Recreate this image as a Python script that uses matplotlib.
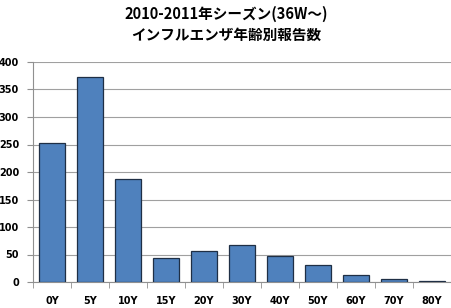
import matplotlib
matplotlib.use('Agg')
import matplotlib.pyplot as plt
import numpy as np

plt.rcParams['font.family'] = ['Noto Sans CJK JP', 'DejaVu Sans']

# data
ages = ['0Y', '5Y', '10Y', '15Y', '20Y', '30Y', '40Y', '50Y', '60Y', '70Y', '80Y']
counts = [253, 373, 187, 44, 56, 67, 47, 31, 13, 5, 2]

fig = plt.figure(figsize=(4.52, 3.08), dpi=100)
ax = fig.add_axes([33 / 452, (308 - 282) / 308, 418 / 452, 220 / 308])

x = np.arange(len(ages))
ax.bar(x, counts, width=0.66, color='#4F81BD', edgecolor='#1F2F45', linewidth=0.9, zorder=3)

ax.set_xlim(-0.5, len(ages) - 0.5)
ax.set_ylim(0, 400)
ax.set_yticks(np.arange(0, 401, 50))
ax.grid(axis='y', color='#A0A0A0', linewidth=0.8, zorder=0)

ax.set_xticks(x)
ax.set_xticklabels(ages, fontsize=7, fontweight='bold', family='DejaVu Sans')
ax.tick_params(axis='x', length=0, pad=10)
ax.set_xticks(np.arange(-0.5, len(ages), 1), minor=True)
ax.tick_params(axis='x', which='minor', length=4, color='#909090', direction='out')
ax.tick_params(axis='y', length=4, color='#909090', labelsize=7, pad=6)
for lab in ax.get_yticklabels():
    lab.set_fontweight('bold')
    lab.set_family('DejaVu Sans')

for s in ['top', 'right']:
    ax.spines[s].set_visible(False)
for s in ['left', 'bottom']:
    ax.spines[s].set_color('#909090')

fig.text(0.5, 1 - 14 / 308, '2010-2011年シーズン(36W～)', ha='center', va='center',
         fontsize=10.5, fontweight='bold')
fig.text(0.5, 1 - 35 / 308, 'インフルエンザ年齢別報告数', ha='center', va='center',
         fontsize=10.5, fontweight='bold')

fig.savefig('out.png', dpi=100)
